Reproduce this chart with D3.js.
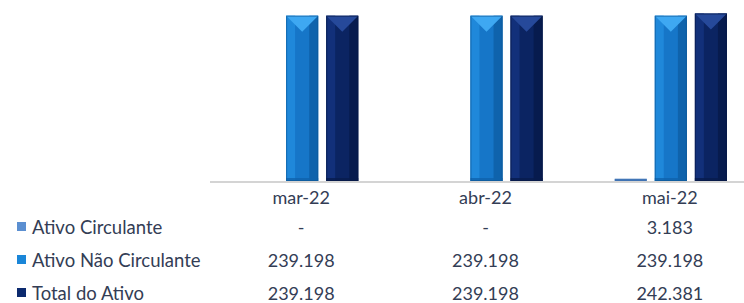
<!DOCTYPE html>
<html>
<head>
<meta charset="utf-8">
<script src="https://cdn.jsdelivr.net/npm/d3@7"></script>
<style>
  body { margin: 0; background: #fff; }
  svg { display: block; font-family: Lato, 'Open Sans', sans-serif; }
</style>
</head>
<body>
<svg id="chart"></svg>
<script>
const months = ['mar-22', 'abr-22', 'mai-22'];
const seriesNames = ['Ativo Circulante', 'Ativo Não Circulante', 'Total do Ativo'];
const circulante = [0, 0, 3183];
const naoCirculante = [239198, 239198, 239198];
const totalAtivo = [239198, 239198, 242381];
const cellLabels = [
  ['-', '-', '3.183'],
  ['239.198', '239.198', '239.198'],
  ['239.198', '239.198', '242.381']
];

const width = 744;
const height = 303;
const baseY = 181;
const textColor = '#333d55';

const svg = d3.select('#chart').attr('width', width).attr('height', height);

const seriesValues = [circulante, naoCirculante, totalAtivo];

// colours: base, light side, dark side, top bevel
const palette = [
  { base: '#4f86cc', light: '#6a9ad8', dark: '#3d74bb', top: '#86b2e6', key: '#5b8fd1' },
  { base: '#1676c8', light: '#1f88da', dark: '#0f63ac', top: '#3ea8f2', key: '#1a86d8' },
  { base: '#0b2462', light: '#12307a', dark: '#071b4e', top: '#26499a', key: '#0c2a6e' }
];

const x0 = d3.scaleBand().domain(months).range([210, 763]);
const x1 = d3.scaleBand().domain(d3.range(3))
  .range([0, x0.bandwidth()]).paddingInner(0.2).paddingOuter(0.9);
const y = d3.scaleLinear().domain([0, 262000]).range([baseY, 0]);

// axis line
svg.append('line')
  .attr('x1', 210).attr('x2', width)
  .attr('y1', baseY + 1).attr('y2', baseY + 1)
  .attr('stroke', '#d4d4d4').attr('stroke-width', 2);

const bars = [];
months.forEach((m, i) => {
  seriesValues.forEach((vals, s) => {
    if (vals[i] > 0) bars.push({ month: m, s: s, v: vals[i] });
  });
});

const g = svg.selectAll('.bar').data(bars).enter().append('g').attr('class', 'bar');

g.each(function (d) {
  const sel = d3.select(this);
  const bx = x0(d.month) + x1(d.s);
  const bw = x1.bandwidth();
  const top = y(d.v);
  const h = baseY - top;
  const c = palette[d.s];
  sel.append('rect').attr('x', bx).attr('y', top).attr('width', bw).attr('height', h).attr('fill', c.base);
  if (h > 20) {
    const side = bw * 0.28;
    sel.append('rect').attr('x', bx).attr('y', top).attr('width', side).attr('height', h).attr('fill', c.light);
    sel.append('rect').attr('x', bx + bw - side).attr('y', top).attr('width', side).attr('height', h).attr('fill', c.dark);
    sel.append('path')
      .attr('d', `M${bx},${top}L${bx + bw},${top}L${bx + bw / 2},${top + 16}Z`)
      .attr('fill', c.top);
    sel.append('rect').attr('x', bx).attr('y', baseY - 3).attr('width', bw).attr('height', 3)
      .attr('fill', c.dark).attr('opacity', 0.8);
  }
  sel.append('rect').attr('x', bx + 0.5).attr('y', top + 0.5).attr('width', bw - 1).attr('height', Math.max(h - 1, 0.5))
    .attr('fill', 'none').attr('stroke', d3.color(c.dark).darker(0.4)).attr('stroke-width', 1).attr('opacity', 0.6);
});

// category labels
svg.selectAll('.cat').data(months).enter().append('text')
  .attr('x', d => x0(d) + x0.bandwidth() / 2 - 1)
  .attr('y', 204)
  .attr('text-anchor', 'middle')
  .attr('font-size', 18)
  .attr('fill', textColor)
  .text(d => d);

// table rows
const rowY = [234, 267, 300];
seriesNames.forEach((name, r) => {
  svg.append('rect').attr('x', 17).attr('y', rowY[r] - 12).attr('width', 9).attr('height', 9)
    .attr('fill', palette[r].key);
  svg.append('text').attr('x', 32).attr('y', rowY[r])
    .attr('font-size', 18.5).attr('fill', textColor).text(name);
  months.forEach((m, i) => {
    svg.append('text')
      .attr('x', x0(m) + x0.bandwidth() / 2 - 1)
      .attr('y', rowY[r])
      .attr('text-anchor', 'middle')
      .attr('font-size', 18).attr('fill', textColor)
      .text(cellLabels[r][i]);
  });
});
</script>
</body>
</html>
